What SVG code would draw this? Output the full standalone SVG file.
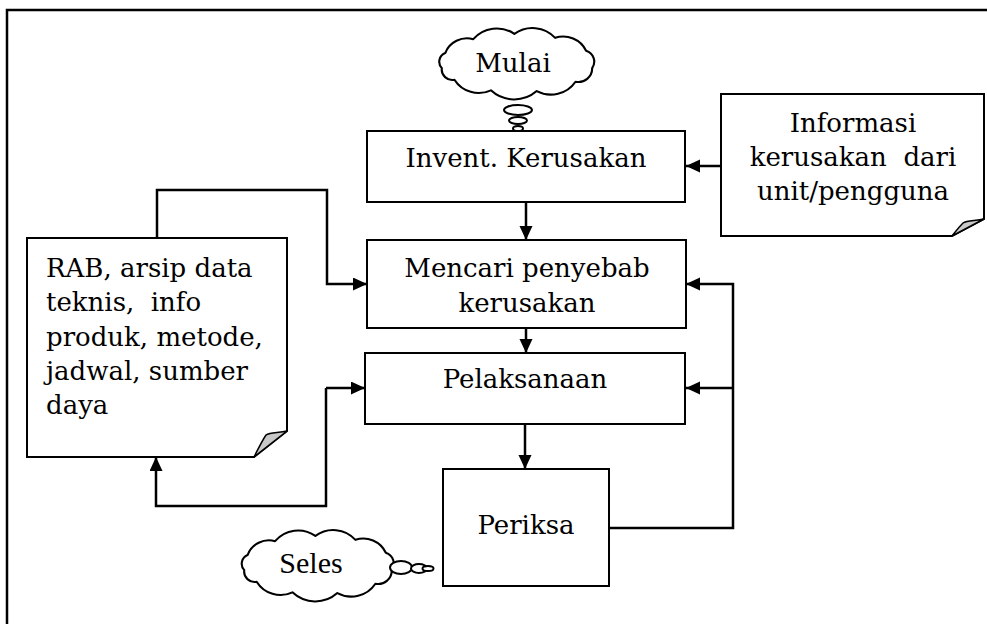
<svg xmlns="http://www.w3.org/2000/svg" width="987" height="624" viewBox="0 0 987 624">
  <style>
    .box { fill: #fff; stroke: #000; stroke-width: 2; }
    .note { fill: #fff; stroke: #000; stroke-width: 2; stroke-linejoin: miter; }
    .curl { fill: #c8c8c8; stroke: #000; stroke-width: 1.5; stroke-linejoin: round; }
    .cloud { fill: #fff; stroke: #000; stroke-width: 2; stroke-linejoin: round; }
    .bubble { fill: #fff; stroke: #000; stroke-width: 2; }
    .wire { fill: none; stroke: #000; stroke-width: 2.5; }
    .lbl { font-family: "DejaVu Serif", "Liberation Serif", serif; font-size: 26px; fill: #000; white-space: pre; }
    .mid { text-anchor: middle; }
    .tm { font-family: "Liberation Serif", "Times New Roman", serif; font-size: 30px; fill: #000; text-anchor: middle; }
  </style>
  <defs>
    <marker id="arrow" markerUnits="userSpaceOnUse" markerWidth="16" markerHeight="14" refX="14" refY="6.5" orient="auto">
      <path d="M0,0 L14,6.5 L0,13 Z" fill="#000"/>
    </marker>
    <!-- cloud outline centred on (0,0) -->
    <path id="cloudShape" d="M-67.7,-9.6 A22,22 0 0 1 -41.3,-22.9 A29,29 0 0 1 -2.5,-28 A29,29 0 0 1 36,-24.2 A24,24 0 0 1 65.2,-11.8 A11,11 0 0 1 70.9,4.9 A13,13 0 0 1 55.2,18 A28,28 0 0 1 18.6,27 A32,32 0 0 1 -24.6,26.3 A27,27 0 0 1 -59,16.1 A10,10 0 0 1 -70.9,4.9 A9,9 0 0 1 -67.7,-9.6 Z"/>
  </defs>

  <!-- page frame -->
  <g id="frame">
    <path d="M7,624 V10 H987" fill="none" stroke="#000" stroke-width="2.5"/>
  </g>

  <!-- connectors -->
  <g id="connectors">
    <path class="wire" d="M721,166 H686" marker-end="url(#arrow)"/>
    <path class="wire" d="M526,202 V240" marker-end="url(#arrow)"/>
    <path class="wire" d="M526,328 V353" marker-end="url(#arrow)"/>
    <path class="wire" d="M525,424 V469" marker-end="url(#arrow)"/>
    <path class="wire" d="M157,238 V190 H327 V284 H367" marker-end="url(#arrow)"/>
    <path class="wire" d="M326,388 H365" marker-end="url(#arrow)"/>
    <path class="wire" d="M326,388 V506 H156 V457" marker-end="url(#arrow)"/>
    <path class="wire" d="M609,528 H733 V284 H686" marker-end="url(#arrow)"/>
    <path class="wire" d="M733,388 H686" marker-end="url(#arrow)"/>
  </g>

  <g id="mulai">
    <use href="#cloudShape" class="cloud" transform="translate(517,63) scale(1.06,1.04)"/>
    <ellipse class="bubble" cx="518" cy="110" rx="14" ry="5"/>
    <ellipse class="bubble" cx="518" cy="120.5" rx="9" ry="3.5"/>
    <ellipse class="bubble" cx="518" cy="128.5" rx="5" ry="2.5"/>
    <text class="lbl mid" x="513" y="72">Mulai</text>
  </g>

  <g id="invent">
    <rect class="box" x="367" y="131" width="318" height="71"/>
    <text class="lbl mid" x="526" y="167">Invent. Kerusakan</text>
  </g>

  <g id="informasi">
    <path class="note" d="M721,94 H984 V219 L952,236 H721 Z"/>
    <path class="curl" d="M952,236 L984,219 C975,221 967,220 963,223 C959,227 956,231 952,236 Z"/>
    <text class="lbl mid" x="853" y="132">Informasi</text>
    <text class="lbl mid" x="853" y="166">kerusakan  dari</text>
    <text class="lbl mid" x="853" y="200">unit/pengguna</text>
  </g>

  <g id="mencari">
    <rect class="box" x="367" y="240" width="319" height="88"/>
    <text class="lbl mid" x="527" y="277">Mencari penyebab</text>
    <text class="lbl mid" x="527" y="312">kerusakan</text>
  </g>

  <g id="pelaksanaan">
    <rect class="box" x="365" y="353" width="320" height="71"/>
    <text class="lbl mid" x="525" y="388">Pelaksanaan</text>
  </g>

  <g id="rab">
    <path class="note" d="M27,238 H287 V431 L254,457 H27 Z"/>
    <path class="curl" d="M254,457 L287,431 C278,433 270,432 266,435 C262,441 258,449 254,457 Z"/>
    <text class="lbl" x="46" y="277">RAB, arsip data</text>
    <text class="lbl" x="46" y="311">teknis,  info</text>
    <text class="lbl" x="46" y="346">produk, metode,</text>
    <text class="lbl" x="46" y="380">jadwal, sumber</text>
    <text class="lbl" x="46" y="414">daya</text>
  </g>

  <g id="periksa">
    <rect class="box" x="443" y="469" width="166" height="117"/>
    <text class="lbl mid" x="526" y="534">Periksa</text>
  </g>

  <g id="seles">
    <use href="#cloudShape" class="cloud" transform="translate(318,565) scale(1.04,1.04)"/>
    <ellipse class="bubble" cx="401" cy="567.5" rx="11" ry="6.5"/>
    <ellipse class="bubble" cx="419" cy="568.5" rx="8" ry="4.5"/>
    <ellipse class="bubble" cx="428" cy="568.5" rx="5.5" ry="2.5"/>
    <text class="tm" x="311" y="573">Seles</text>
  </g>
</svg>
